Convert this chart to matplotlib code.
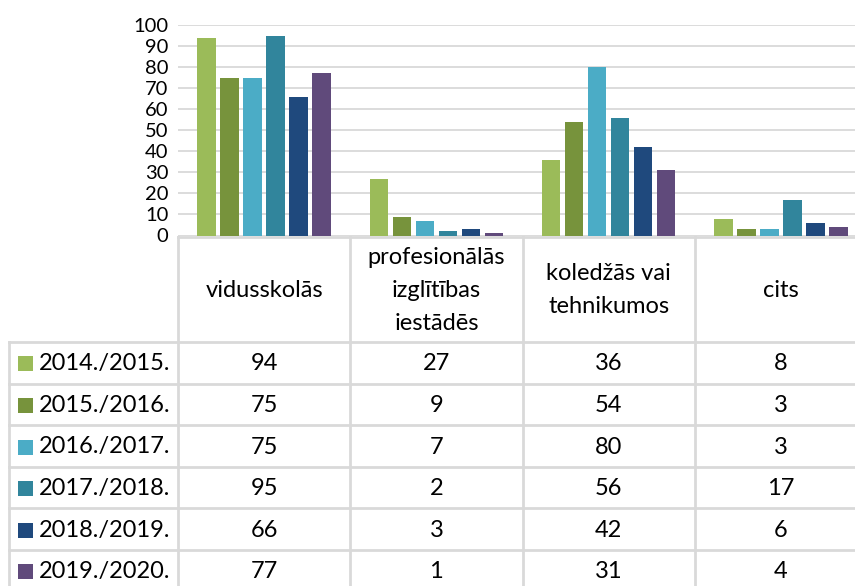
import matplotlib
matplotlib.use("Agg")
import matplotlib.pyplot as plt
import numpy as np

categories = ["vidusskolās", "profesionālās\nizglītības\niestādēs", "koledžās vai\ntehnikumos", "cits"]
series_names = ["2014./2015.", "2015./2016.", "2016./2017.", "2017./2018.", "2018./2019.", "2019./2020."]
values_2014 = [94, 27, 36, 8]
values_2015 = [75, 9, 54, 3]
values_2016 = [75, 7, 80, 3]
values_2017 = [95, 2, 56, 17]
values_2018 = [66, 3, 42, 6]
values_2019 = [77, 1, 31, 4]
series_values = [values_2014, values_2015, values_2016, values_2017, values_2018, values_2019]
colors = ["#9BBB59", "#77933C", "#4BACC6", "#31859C", "#1F497D", "#604A7B"]
y_ticks = [0, 10, 20, 30, 40, 50, 60, 70, 80, 90, 100]

FONT = ["Lato", "DejaVu Sans"]
plt.rcParams["font.family"] = FONT

W, H = 855, 586
fig = plt.figure(figsize=(W / 100, H / 100), dpi=100)
fig.patch.set_facecolor("white")

grid_c = "#D9D9D9"
x0 = 178.0
colw = 172.25
y_zero = 235.5
y_top = 25.0

# bar axes
ax = fig.add_axes([x0 / W, (H - y_zero) / H, 4 * colw / W, (y_zero - y_top) / H])
ax.set_xlim(-0.5, 3.5)
ax.set_ylim(0, 100)
step = 23.0 / colw
bw = 18.5 / colw
xs = np.arange(len(categories))
for i, (vals, c) in enumerate(zip(series_values, colors)):
    ax.bar(xs + (i - 2.5) * step, vals, width=bw, color=c, zorder=3, linewidth=0)
ax.set_yticks(y_ticks)
ax.set_yticklabels([str(t) for t in y_ticks], fontsize=14.5, color="#000000")
ax.tick_params(axis="y", length=0, pad=7)
ax.set_xticks([])
ax.yaxis.grid(True, color=grid_c, linewidth=1.3, zorder=0)
for s in ax.spines.values():
    s.set_visible(False)
ax.set_facecolor("none")

# table overlay in pixel coordinates
tax = fig.add_axes([0, 0, 1, 1])
tax.set_xlim(0, W)
tax.set_ylim(H, 0)
tax.axis("off")
tax.set_facecolor("none")

lw = 2.0
header_top = 236.5
header_bot = 342.0
row_h = 41.6
left_x = 9.0
n_rows = len(series_names)
row_tops = [header_bot + k * row_h for k in range(n_rows + 1)]
bottom = H + 5

# header top line
tax.plot([x0, W + 5], [header_top, header_top], color=grid_c, lw=lw)
# vertical lines
for k in range(5):
    xv = x0 + k * colw
    tax.plot([xv, xv], [header_top, bottom], color=grid_c, lw=lw)
tax.plot([left_x, left_x], [header_bot, bottom], color=grid_c, lw=lw)
# horizontal lines
for yt in row_tops:
    tax.plot([left_x, W + 5], [yt, yt], color=grid_c, lw=lw)

fs = 17
# headers
for j, cat in enumerate(categories):
    tax.text(x0 + (j + 0.5) * colw, (header_top + header_bot) / 2 + 1, cat,
             ha="center", va="center", fontsize=fs, linespacing=1.72, color="#000000")
# rows
for i, name in enumerate(series_names):
    yc = row_tops[i] + row_h / 2 + 1
    tax.add_patch(plt.Rectangle((18, yc - 7.5), 15, 15, color=colors[i], lw=0))
    tax.text(39, yc, name, ha="left", va="center", fontsize=fs, color="#000000")
    for j, v in enumerate(series_values[i]):
        tax.text(x0 + (j + 0.5) * colw, yc, str(v), ha="center", va="center",
                 fontsize=fs, color="#000000")

fig.savefig("out.png", dpi=100, facecolor="white")
